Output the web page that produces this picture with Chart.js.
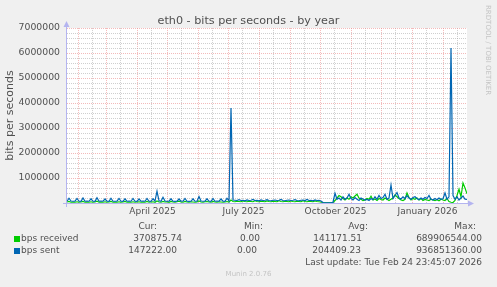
<!DOCTYPE html>
<html>
<head>
<meta charset="utf-8">
<script src="https://cdn.jsdelivr.net/npm/chart.js@4.4.1/dist/chart.umd.min.js"></script>
<style>
    body { margin: 0; background: #f0f0f0; }
    #wrap { position: relative; width: 497px; height: 287px; font-family: "DejaVu Sans", sans-serif; color: #505050; }
    #wrap canvas { position: absolute; left: 0; top: 0; }
    .t { position: absolute; font-size: 9px; line-height: 11px; white-space: nowrap; }
    .r { text-align: right; }
    .sq { position: absolute; width: 6px; height: 6px; }
    .mark { position: absolute; font-size: 7px; line-height: 9px; color: #c4c4c4; white-space: nowrap; }
</style>
</head>
<body>
<div id="wrap">
    <canvas id="graph" width="497" height="287"></canvas>

    <div class="mark" style="left:483px; top:5px; writing-mode:vertical-rl;">RRDTOOL / TOBI OETIKER</div>

    <div class="t r" style="right:340px; top:221px;">Cur:</div>
    <div class="t r" style="right:234px; top:221px;">Min:</div>
    <div class="t r" style="right:129px; top:221px;">Avg:</div>
    <div class="t r" style="right:21px; top:221px;">Max:</div>

    <div class="sq" style="left:14px; top:236px; background:#00cc00;"></div>
    <div class="t" style="left:21px; top:233px;">bps received</div>
    <div class="t r" style="right:315px; top:233px;">370875.74</div>
    <div class="t r" style="right:237px; top:233px;">0.00</div>
    <div class="t r" style="right:135px; top:233px;">141171.51</div>
    <div class="t r" style="right:15px; top:233px;">689906544.00</div>

    <div class="sq" style="left:14px; top:248px; background:#0066b3;"></div>
    <div class="t" style="left:21px; top:245px;">bps sent</div>
    <div class="t r" style="right:320px; top:245px;">147222.00</div>
    <div class="t r" style="right:240px; top:245px;">0.00</div>
    <div class="t r" style="right:136px; top:245px;">204409.23</div>
    <div class="t r" style="right:15px; top:245px;">936851360.00</div>

    <div class="t r" style="right:15px; top:257px;">Last update: Tue Feb 24 23:45:07 2026</div>
    <div class="mark" style="left:0; width:497px; text-align:center; top:270px;">Munin 2.0.76</div>
</div>

<script>
// ---------------- Data (one sample every 2 days, day 0 = Jan 20 2025) ----------------
const days = Array.from({ length: 201 }, (_, i) => i * 2);

const sentValues = [
    70000, 190000, 80000, 70000, 75000, 180000, 70000, 65000, 200000, 70000,
    75000, 70000, 170000, 70000, 65000, 210000, 70000, 75000, 70000, 160000,
    70000, 65000, 190000, 70000, 70000, 75000, 180000, 70000, 65000, 170000,
    70000, 75000, 70000, 180000, 70000, 65000, 160000, 70000, 75000, 70000,
    180000, 70000, 65000, 170000, 80000, 470000, 90000, 70000, 230000, 80000,
    70000, 75000, 170000, 70000, 65000, 70000, 160000, 70000, 75000, 180000,
    70000, 65000, 70000, 170000, 70000, 75000, 260000, 80000, 70000, 75000,
    170000, 70000, 65000, 180000, 70000, 75000, 70000, 160000, 70000, 65000,
    190000, 80000, 3800000, 120000, 110000, 100000, 130000, 100000, 110000, 90000,
    120000, 100000, 110000, 140000, 100000, 110000, 90000, 120000, 100000, 110000,
    130000, 100000, 90000, 110000, 120000, 100000, 110000, 140000, 100000, 90000,
    110000, 120000, 100000, 110000, 130000, 100000, 90000, 110000, 120000, 100000,
    140000, 100000, 110000, 90000, 120000, 100000, 110000, 80000, 20000, 10000,
    10000, 10000, 10000, 30000, 390000, 150000, 200000, 120000, 250000, 150000,
    200000, 350000, 180000, 120000, 220000, 150000, 100000, 200000, 160000, 120000,
    140000, 100000, 180000, 130000, 250000, 150000, 300000, 180000, 220000, 350000,
    150000, 200000, 720000, 180000, 300000, 420000, 200000, 160000, 250000, 180000,
    300000, 200000, 150000, 220000, 250000, 180000, 130000, 200000, 150000, 220000,
    180000, 300000, 150000, 120000, 180000, 130000, 200000, 150000, 170000, 400000,
    150000, 250000, 6200000, 300000, 150000, 250000, 120000, 200000, 280000, 150000,
    147222
];

const receivedValues = [
    40000, 60000, 30000, 40000, 30000, 50000, 30000, 40000, 60000, 30000,
    40000, 30000, 50000, 30000, 40000, 70000, 30000, 40000, 30000, 50000,
    30000, 40000, 60000, 30000, 40000, 30000, 50000, 30000, 40000, 60000,
    30000, 40000, 30000, 50000, 30000, 40000, 50000, 30000, 40000, 30000,
    60000, 30000, 40000, 50000, 30000, 80000, 40000, 30000, 60000, 40000,
    50000, 30000, 60000, 40000, 30000, 50000, 70000, 40000, 30000, 60000,
    40000, 30000, 50000, 40000, 30000, 40000, 80000, 40000, 30000, 50000,
    60000, 40000, 30000, 60000, 40000, 30000, 50000, 40000, 30000, 40000,
    60000, 40000, 120000, 60000, 50000, 70000, 60000, 50000, 80000, 60000,
    50000, 70000, 60000, 50000, 90000, 60000, 50000, 70000, 60000, 50000,
    80000, 60000, 50000, 70000, 60000, 50000, 90000, 60000, 50000, 70000,
    60000, 50000, 80000, 60000, 50000, 70000, 60000, 50000, 90000, 60000,
    50000, 70000, 60000, 50000, 80000, 60000, 50000, 40000, 10000, 10000,
    10000, 10000, 10000, 20000, 100000, 200000, 300000, 250000, 180000, 120000,
    200000, 150000, 250000, 200000, 280000, 350000, 200000, 150000, 100000, 120000,
    180000, 150000, 270000, 120000, 160000, 100000, 180000, 140000, 120000, 200000,
    150000, 100000, 150000, 200000, 320000, 250000, 180000, 120000, 100000, 150000,
    400000, 220000, 120000, 180000, 150000, 200000, 120000, 180000, 100000, 140000,
    120000, 100000, 150000, 120000, 100000, 130000, 90000, 150000, 120000, 100000,
    180000, 60000, 30000, 20000, 100000, 300000, 550000, 250000, 800000, 600000,
    370876
];

// ---------------- Axis ticks (days since Jan 20 2025) ----------------
const monthStarts = [11, 39, 70, 100, 131, 161, 192, 223, 253, 284, 314, 345, 376];
const midMonths = [25, 53, 84, 114, 145, 175, 206, 237, 267, 298, 328, 359, 390];
const monthLabelDays = [85.5, 176.5, 268.5, 360.5];
const monthLabels = ['April 2025', 'July 2025', 'October 2025', 'January 2026'];
const yMax = 7000000;
const yMinorStep = 200000;
const yMajorStep = 1000000;

const FONT = '"DejaVu Sans", sans-serif';
const TEXT = '#505050';
const MAJOR_GRID = 'rgba(235, 140, 140, 0.6)';
const MINOR_GRID = 'rgba(160, 160, 160, 0.5)';

// ---------------- Background + axes with arrows ----------------
const rrdFrame = {
    id: 'rrdFrame',
    beforeDraw(chart) {
        const { ctx, chartArea: a } = chart;
        ctx.save();
        ctx.fillStyle = '#f0f0f0';
        ctx.fillRect(0, 0, chart.width, chart.height);
        ctx.fillStyle = '#ffffff';
        ctx.fillRect(a.left, a.top, a.right - a.left, a.bottom - a.top);
        ctx.restore();
    },
    afterDatasetsDraw(chart) {
        const { ctx, chartArea: a } = chart;
        ctx.save();
        ctx.strokeStyle = '#b4b4f0';
        ctx.fillStyle = '#b4b4f0';
        ctx.lineWidth = 1;
        ctx.beginPath();
        ctx.moveTo(a.left - 4, a.bottom + 0.5);
        ctx.lineTo(a.right + 2, a.bottom + 0.5);
        ctx.moveTo(a.left - 0.5, a.bottom + 4);
        ctx.lineTo(a.left - 0.5, a.top - 2);
        ctx.stroke();
        ctx.beginPath();
        ctx.moveTo(a.right + 7, a.bottom + 0.5);
        ctx.lineTo(a.right + 1, a.bottom - 2.5);
        ctx.lineTo(a.right + 1, a.bottom + 3.5);
        ctx.fill();
        ctx.beginPath();
        ctx.moveTo(a.left - 0.5, a.top - 7);
        ctx.lineTo(a.left - 3.5, a.top - 1);
        ctx.lineTo(a.left + 2.5, a.top - 1);
        ctx.fill();
        ctx.restore();
    }
};

const xTickValues = [...monthStarts, ...midMonths, ...monthLabelDays].sort((a, b) => a - b);
const yTickValues = [];
for (let v = 0; v <= yMax; v += yMinorStep) yTickValues.push(v);

new Chart(document.getElementById('graph'), {
    type: 'line',
    data: {
        datasets: [
            {
                label: 'bps sent',
                data: days.map((d, i) => ({ x: d, y: sentValues[i] })),
                borderColor: '#0066b3',
                borderWidth: 1.2,
                pointRadius: 0,
                tension: 0
            },
            {
                label: 'bps received',
                data: days.map((d, i) => ({ x: d, y: receivedValues[i] })),
                borderColor: '#00cc00',
                borderWidth: 1.2,
                pointRadius: 0,
                tension: 0
            }
        ]
    },
    options: {
        responsive: false,
        animation: false,
        devicePixelRatio: 1,
        layout: { padding: 0 },
        scales: {
            x: {
                type: 'linear',
                min: 0,
                max: 400,
                afterBuildTicks: s => { s.ticks = xTickValues.map(v => ({ value: v })); },
                afterFit: s => { s.height = 84; },
                ticks: {
                    autoSkip: false,
                    maxRotation: 0,
                    padding: 3,
                    color: TEXT,
                    font: { family: FONT, size: 9 },
                    callback: v => {
                        const k = monthLabelDays.indexOf(v);
                        return k >= 0 ? monthLabels[k] : '';
                    }
                },
                grid: {
                    drawTicks: false,
                    lineWidth: 1,
                    color: c => {
                        const v = c.tick && c.tick.value;
                        if (monthStarts.includes(v)) return MAJOR_GRID;
                        if (midMonths.includes(v)) return MINOR_GRID;
                        return 'rgba(0,0,0,0)';
                    }
                },
                border: { display: false, dash: [1, 1] }
            },
            y: {
                min: 0,
                max: yMax,
                afterBuildTicks: s => { s.ticks = yTickValues.map(v => ({ value: v })); },
                afterFit: s => { s.width = 67; },
                ticks: {
                    autoSkip: false,
                    padding: 7,
                    color: TEXT,
                    font: { family: FONT, size: 9.3 },
                    callback: v => (v > 0 && v % yMajorStep === 0) ? String(v) : ''
                },
                grid: {
                    drawTicks: false,
                    lineWidth: 1,
                    color: c => {
                        const v = c.tick && c.tick.value;
                        if (v === 0) return 'rgba(0,0,0,0)';
                        return v % yMajorStep === 0 ? MAJOR_GRID : MINOR_GRID;
                    }
                },
                border: { display: false, dash: [1, 1] },
                title: {
                    display: true,
                    text: 'bits per seconds',
                    color: TEXT,
                    font: { family: FONT, size: 11 },
                    padding: { top: 4, bottom: 0 }
                }
            },
            // empty right-hand strip so the plot ends where rrdtool's does
            side: {
                position: 'right',
                display: true,
                afterFit: s => { s.width = 30; },
                ticks: { display: false },
                grid: { display: false },
                border: { display: false }
            }
        },
        plugins: {
            legend: { display: false },
            tooltip: { enabled: false },
            title: {
                display: true,
                text: 'eth0 - bits per seconds - by year',
                color: TEXT,
                font: { family: FONT, size: 11.2, weight: 'normal' },
                padding: { top: 14.3, bottom: 0.3 }
            }
        }
    },
    plugins: [rrdFrame]
});
</script>
</body>
</html>
